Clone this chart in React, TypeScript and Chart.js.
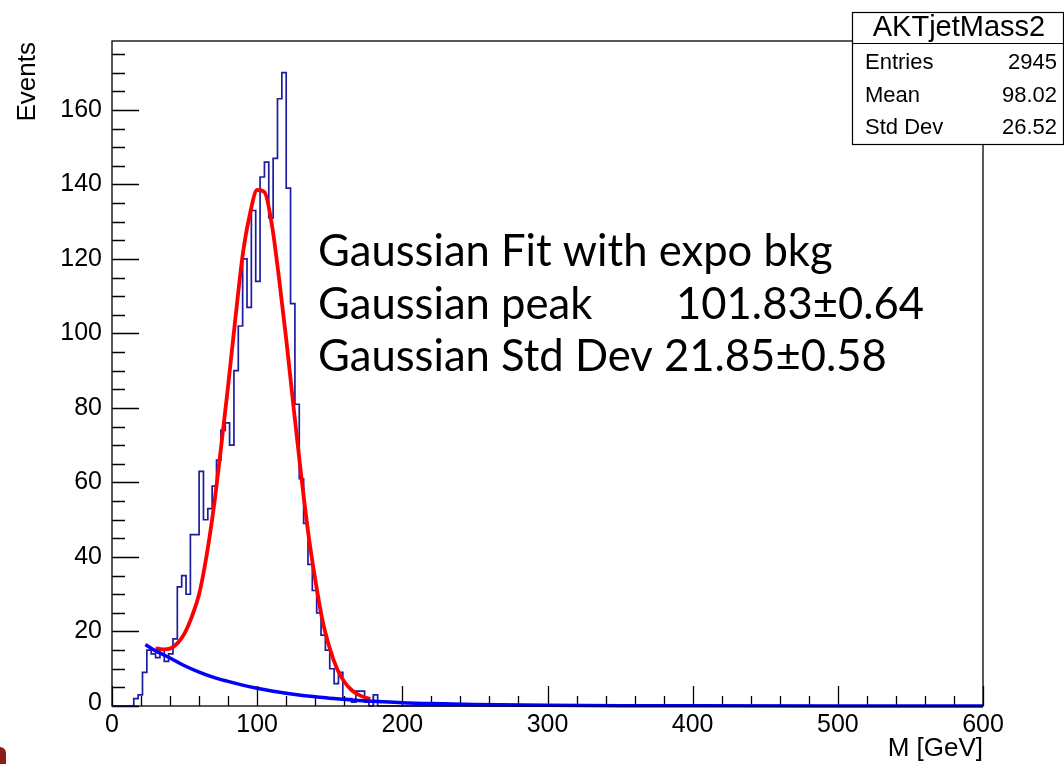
import React, { useEffect, useRef } from "react";
import { Chart, registerables } from "chart.js";

Chart.register(...registerables);

// ---------- data ----------
const binStart = 12;
const binWidth = 3;
const counts = [
  0, 2, 3, 9, 15, 14, 13, 15, 12, 14, 18, 32, 35, 30, 46, 46, 63, 50, 53, 59,
  66, 74, 76, 70, 90, 102, 120, 107, 133, 114, 142, 146, 131, 147, 163, 170,
  139, 108, 81, 61, 49, 38, 31, 25, 19, 15, 10, 6, 9, 2, 2, 1, 4, 4, 1, 0, 3, 0,
];
const xRange = [0, 600];
const yRange = [0, 178.5];

const fitX = [30, 35, 40, 45, 50, 55, 60, 65, 70, 75, 80, 85, 90, 95, 100, 105, 110, 115, 120, 125, 130, 135, 140, 145, 150, 155, 160, 165, 170, 175, 178];
const fitTotal = [15.5, 15.2, 15.4, 16.8, 19.5, 24, 30, 40, 53, 69, 86, 104, 121, 132, 138.5, 138, 129.5, 115, 98.5, 80.5, 63, 47, 34, 23, 15.5, 10, 6.5, 4.3, 3, 2.2, 1.9];

const bkgX = [23, 30, 40, 50, 60, 70, 80, 90, 100, 110, 120, 130, 140, 150, 160, 170, 180, 200, 220, 250, 300, 350, 400, 500, 600];
const bkgY = [16.5, 14.8, 12.9, 10.8, 9.1, 7.7, 6.6, 5.6, 4.75, 4.0, 3.4, 2.9, 2.5, 2.1, 1.8, 1.5, 1.3, 0.9, 0.65, 0.4, 0.18, 0.08, 0.04, 0.01, 0.0];

const xMajorTicks = [0, 100, 200, 300, 400, 500, 600];
const xMinorTicks = Array.from({ length: 31 }, (_, i) => i * 20);
const yMajorTicks = [0, 20, 40, 60, 80, 100, 120, 140, 160];
const yMinorTicks = Array.from({ length: 36 }, (_, i) => i * 5);

const xTitle = "M [GeV]";
const yTitle = "Events";
const statsTitle = "AKTjetMass2";
const statsLabels = ["Entries", "Mean", "Std Dev"];
const statsValues = ["2945", "98.02", "26.52"];
const fitLine1 = "Gaussian Fit with expo bkg";
const fitLine2a = "Gaussian peak";
const fitLine2b = "101.83\u00b10.64";
const fitLine3 = "Gaussian Std Dev 21.85\u00b10.58";

// ---------- helpers ----------
function histPoints() {
  const pts: { x: number; y: number }[] = [{ x: xRange[0], y: 0 }];
  pts.push({ x: binStart, y: 0 });
  counts.forEach((c, i) => pts.push({ x: binStart + (i + 1) * binWidth, y: c }));
  pts.push({ x: xRange[1], y: 0 });
  return pts;
}

const FONT = '"Liberation Sans", Arial, Helvetica, sans-serif';

const rootPlugin = {
  id: "rootDecor",
  beforeDatasetsDraw(chart: any) {
    const { ctx, chartArea: a } = chart;
    const xs = chart.scales.x;
    const ys = chart.scales.y;
    ctx.save();
    ctx.strokeStyle = "#000";
    ctx.lineWidth = 1.3;
    ctx.beginPath();
    xMinorTicks.forEach((v) => {
      const px = Math.round(xs.getPixelForValue(v)) + 0.5;
      const len = xMajorTicks.includes(v) ? 20 : 10;
      ctx.moveTo(px, a.bottom);
      ctx.lineTo(px, a.bottom - len);
    });
    yMinorTicks.forEach((v) => {
      const py = Math.round(ys.getPixelForValue(v)) + 0.5;
      const len = yMajorTicks.includes(v) ? 27 : 13;
      ctx.moveTo(a.left, py);
      ctx.lineTo(a.left + len, py);
    });
    ctx.stroke();
    ctx.restore();
  },
  afterDraw(chart: any) {
    const { ctx, chartArea: a } = chart;
    const xs = chart.scales.x;
    const ys = chart.scales.y;
    ctx.save();
    ctx.strokeStyle = "#000";
    ctx.lineWidth = 1.3;
    ctx.strokeRect(a.left, a.top, a.right - a.left, a.bottom - a.top);

    ctx.fillStyle = "#000";
    ctx.font = `25px ${FONT}`;
    ctx.textAlign = "center";
    ctx.textBaseline = "middle";
    xMajorTicks.forEach((v) => {
      ctx.fillText(String(v), xs.getPixelForValue(v), a.bottom + 19);
    });
    ctx.textAlign = "right";
    yMajorTicks.forEach((v) => {
      const py = ys.getPixelForValue(v);
      ctx.fillText(String(v), a.left - 10, v === 0 ? py - 3 : py);
    });
    ctx.font = `26px ${FONT}`;
    ctx.textAlign = "right";
    ctx.fillText(xTitle, a.right, a.bottom + 43);
    ctx.save();
    ctx.translate(28, a.top + 1);
    ctx.rotate(-Math.PI / 2);
    ctx.textAlign = "right";
    ctx.fillText(yTitle, 0, 0);
    ctx.restore();

    // stats box
    const bx = 852.5, by = 12.5, bw = 211, bh = 132;
    ctx.fillStyle = "#fff";
    ctx.fillRect(bx, by, bw, bh);
    ctx.strokeStyle = "#000";
    ctx.lineWidth = 1.2;
    ctx.strokeRect(bx, by, bw, bh);
    ctx.beginPath();
    ctx.moveTo(bx, 43.5);
    ctx.lineTo(bx + bw, 43.5);
    ctx.stroke();
    ctx.fillStyle = "#000";
    ctx.font = `29px ${FONT}`;
    ctx.textAlign = "center";
    ctx.fillText(statsTitle, bx + bw / 2 + 1, 28);
    ctx.font = `22px ${FONT}`;
    const rowY = [63, 96, 128];
    statsLabels.forEach((l, i) => {
      ctx.textAlign = "left";
      ctx.fillText(l, 865, rowY[i]);
      ctx.textAlign = "right";
      ctx.fillText(statsValues[i], 1057, rowY[i]);
    });

    // fit annotation
    ctx.font = `38px Lato, "Open Sans", sans-serif`;
    const w = ctx.measureText(fitLine1).width;
    const size = 38 * (515 / w);
    ctx.font = `${size.toFixed(1)}px Lato, "Open Sans", sans-serif`;
    ctx.textAlign = "left";
    ctx.textBaseline = "alphabetic";
    ctx.fillText(fitLine1, 318, 266);
    ctx.fillText(fitLine2a, 318, 319);
    ctx.fillText(fitLine2b, 676, 319);
    ctx.fillText(fitLine3, 318, 371);
    ctx.restore();
  },
};

export default function App() {
  const ref = useRef<HTMLCanvasElement | null>(null);
  useEffect(() => {
    if (!ref.current) return;
    const chart = new Chart(ref.current, {
      type: "line",
      data: {
        datasets: [
          {
            label: "bkg",
            data: bkgX.map((x, i) => ({ x, y: bkgY[i] })),
            borderColor: "#0000ff",
            borderWidth: 3.5,
            pointRadius: 0,
            cubicInterpolationMode: "monotone",
            clip: false as any,
            order: 0,
          },
          {
            label: "fit",
            data: fitX.map((x, i) => ({ x, y: fitTotal[i] })),
            borderColor: "#ff0000",
            borderWidth: 3.8,
            pointRadius: 0,
            cubicInterpolationMode: "monotone",
            order: 1,
          },
          {
            label: "hist",
            data: histPoints(),
            borderColor: "#1c1ca0",
            borderWidth: 1.7,
            pointRadius: 0,
            stepped: "after",
            clip: false as any,
            order: 2,
          },
        ],
      },
      options: {
        animation: false,
        responsive: false,
        devicePixelRatio: 1,
        layout: { padding: { left: 112, right: 81, top: 41, bottom: 58 } },
        plugins: { legend: { display: false }, tooltip: { enabled: false } },
        scales: {
          x: { type: "linear", min: xRange[0], max: xRange[1], display: false },
          y: { type: "linear", min: yRange[0], max: yRange[1], display: false },
        },
      },
      plugins: [rootPlugin],
    });
    return () => chart.destroy();
  }, []);
  return (
    <div style={{ position: "absolute", left: 0, top: 0, width: 1064, height: 764, background: "#fff" }}>
      <canvas ref={ref} width={1064} height={764} style={{ width: 1064, height: 764 }} />
      <div style={{ position: "absolute", left: 0, top: 747, width: 6, height: 17, background: "#8a1c1c", borderRadius: "0 6px 0 0" }} />
    </div>
  );
}
